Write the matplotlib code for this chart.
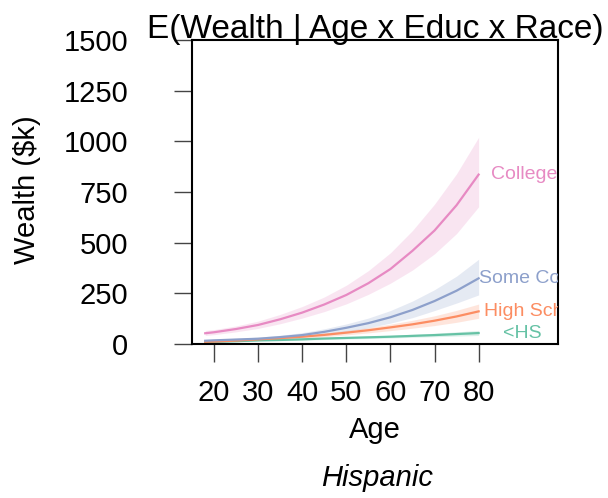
import numpy as np
import matplotlib
matplotlib.use("Agg")
import matplotlib.pyplot as plt

plt.rcParams['font.family'] = ['Liberation Sans', 'DejaVu Sans']

#~~~~~~~~ data ~~~~~~~~
age = [18, 20, 25, 30, 35, 40, 45, 50, 55, 60, 65, 70, 75, 80]

college    = [53, 58, 74, 94, 122, 155, 195, 242, 300, 370, 460, 560, 685, 836]
college_hi = [67, 71, 89, 113, 146, 185, 232, 290, 362, 450, 560, 690, 840, 1020]
college_lo = [42, 46, 60, 77, 100, 128, 160, 198, 245, 300, 365, 445, 545, 677]

somecol    = [16, 18, 22, 26, 34, 44, 60, 80, 103, 132, 168, 212, 263, 324]
somecol_hi = [21, 23, 28, 34, 43, 56, 75, 99, 128, 165, 212, 268, 335, 418]
somecol_lo = [12, 13, 16, 20, 26, 34, 46, 62, 80, 103, 130, 165, 202, 242]

highsch    = [11, 12, 17, 23, 29, 36, 45, 56, 68, 82, 97, 115, 136, 161]
highsch_hi = [15, 16, 21, 28, 35, 43, 54, 67, 81, 98, 117, 139, 166, 197]
highsch_lo = [8, 9, 13, 18, 23, 29, 36, 45, 55, 66, 78, 91, 107, 127]

lths    = [10, 11, 14, 18, 20, 23, 27, 30, 33, 36, 40, 44, 49, 54]
lths_hi = [13, 14, 17, 21, 24, 27, 31, 35, 39, 43, 48, 53, 60, 67]
lths_lo = [7, 8, 10, 14, 16, 19, 22, 25, 27, 30, 33, 36, 39, 42]

groups = ["<HS", "High School", "Some College", "College"]
label_age = [85.5, 81.2, 80.1, 82.7]   # where each label starts
colors = ["#66C2A5", "#FC8D62", "#8DA0CB", "#E78AC3"]
#~~~~~~~~~~~~~~~~~~~~~~~~~~~~~~~~~~~~~~~~~~~

series = [(lths, lths_lo, lths_hi),
          (highsch, highsch_lo, highsch_hi),
          (somecol, somecol_lo, somecol_hi),
          (college, college_lo, college_hi)]

fig = plt.figure(figsize=(6.08, 4.98), dpi=100)
ax = fig.add_axes([192/608, 1-344/498, (558-192)/608, (344-40)/498])

for (mid, lo, hi), name, lx, col in zip(series, groups, label_age, colors):
    ax.fill_between(age, lo, hi, color=col, alpha=0.22, lw=0)
    ax.plot(age, mid, color=col, lw=1.6)
    ax.text(lx, mid[-1], name, color=col, fontsize=14, ha='left', va='center', clip_on=True)

ax.set_xlim(15, 98)
ax.set_ylim(0, 1500)
ax.set_xticks([20, 30, 40, 50, 60, 70, 80])
ax.set_yticks([0, 250, 500, 750, 1000, 1250, 1500])
ax.tick_params(axis='both', direction='out', length=13, width=1, color='#444444', labelsize=21)
ax.tick_params(axis='x', pad=12)
ax.tick_params(axis='y', pad=33)
for s in ax.spines.values():
    s.set_linewidth(1.5)

ax.text(0.5, 0.985, "E(Wealth | Age x Educ x Race)", transform=ax.transAxes,
        ha='center', va='bottom', fontsize=24)
fig.text(27/608, 1-190/498, "Wealth ($k)", rotation=90, ha='center', va='center', fontsize=21)
fig.text(375/608, 1-430/498, "Age", ha='center', va='center', fontsize=21)
fig.text(377/608, 1-478/498, "Hispanic", ha='center', va='center', fontsize=21, style='italic')

fig.savefig("out.png", dpi=100)
